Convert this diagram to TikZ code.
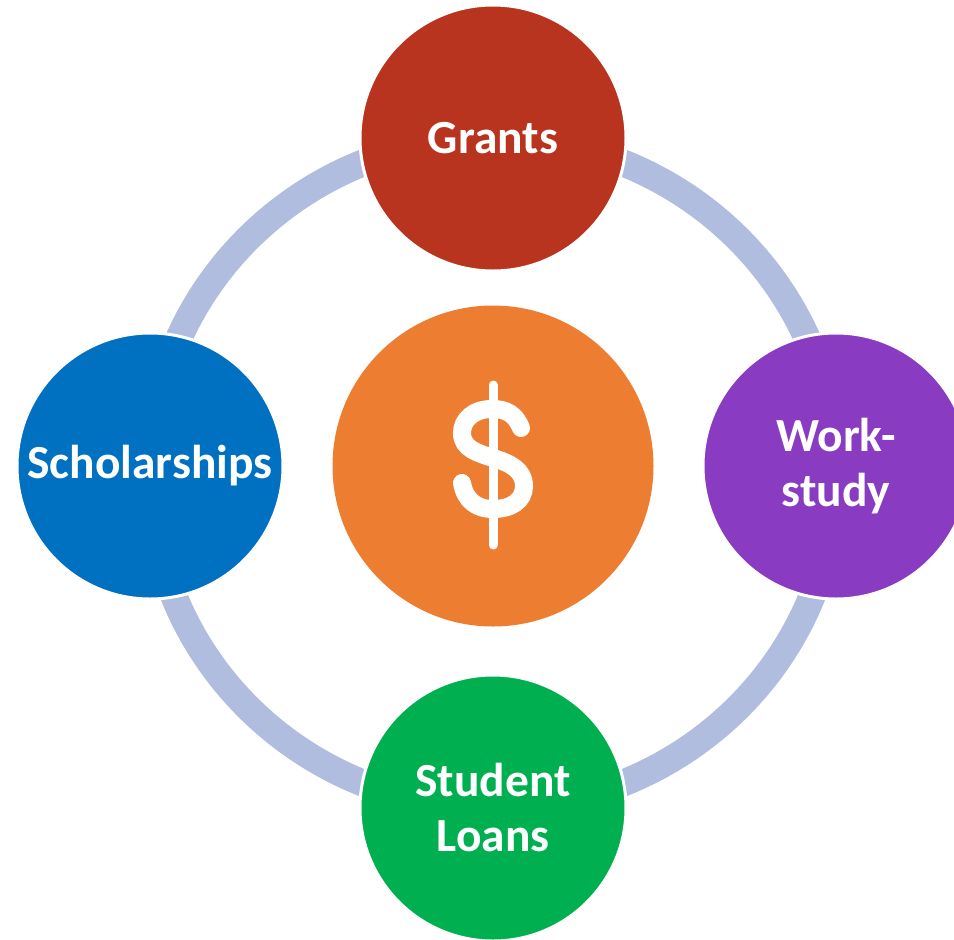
\documentclass[tikz,border=0pt]{standalone}
\usepackage{fontspec}
\setmainfont{Carlito}
\definecolor{ringc}{HTML}{B0BDDF}
\definecolor{grantc}{HTML}{B9341F}
\definecolor{scholc}{HTML}{0070C0}
\definecolor{workc}{HTML}{893BC1}
\definecolor{loanc}{HTML}{00B050}
\definecolor{centc}{HTML}{ED7D31}
\tikzset{
  sat/.style={circle, minimum size=266pt, inner sep=0pt, draw=white, line width=3pt,
    text=white, align=center, font=\bfseries\fontsize{47.5}{55}\selectfont},
  hub/.style={circle, minimum size=321pt, inner sep=0pt, fill=centc},
  ringline/.style={draw=ringc, line width=27pt},
  dollar/.style={draw=white, line cap=round}
}
\begin{document}
\begin{tikzpicture}[x=1pt,y=-1pt]
\useasboundingbox (0,0) rectangle (954,940);
\clip (0,0) rectangle (954,940);
\coordinate (ringcenter) at (493,473);
\draw[ringline] (ringcenter) ellipse [x radius=343pt, y radius=335pt];
\node[hub] (hub) at (493,466) {};
\node[sat, fill=grantc] (grants) at (493,138) {Grants};
\node[sat, fill=scholc] (schol) at (150,466) {Scholarships};
\node[sat, fill=workc] (work) at (836,466) {Work-\\study};
\node[sat, fill=loanc] (loans) at (493,808) {Student\\Loans};
% dollar icon
\draw[dollar, line width=9pt] (493,385) -- (493,545);
\draw[dollar, line width=18pt] (521,428) .. controls (515,413) and (505,409) .. (492,409)
  .. controls (473,409) and (462,420) .. (462,433)
  .. controls (462,449) and (478,453) .. (493,458)
  .. controls (510,463) and (524,470) .. (524,486)
  .. controls (524,501) and (511,509) .. (493,509)
  .. controls (476,509) and (465,500) .. (462,483);
\end{tikzpicture}
\end{document}
